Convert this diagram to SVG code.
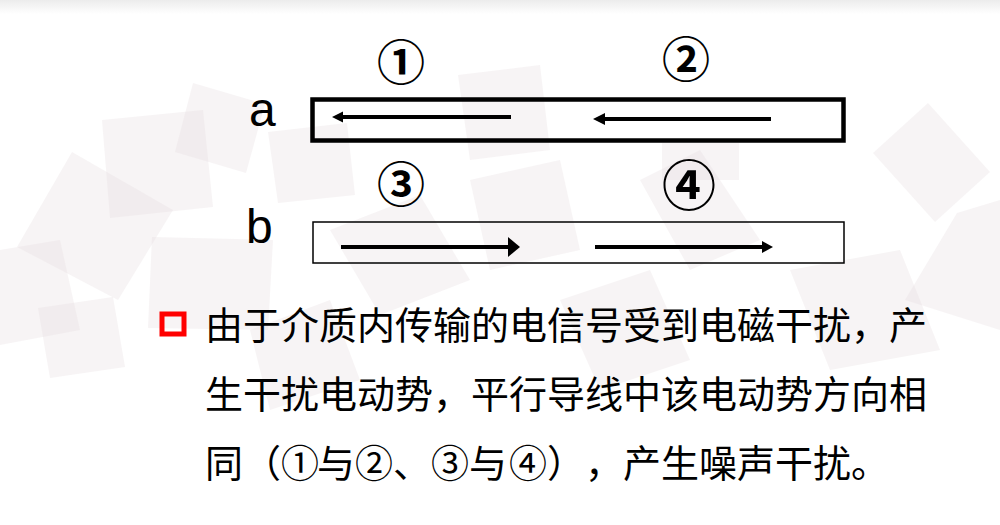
<svg xmlns="http://www.w3.org/2000/svg" width="1000" height="525" viewBox="0 0 1000 525">
<style>
.bg{fill:#e6dcdd;fill-opacity:0.3}
.lbl{font-family:"Liberation Sans",Arial,sans-serif;font-size:48px;fill:#000}
.num{font-family:"Noto Sans CJK SC",sans-serif;font-weight:bold;fill:#000;text-anchor:middle}
.txt{font-family:"Noto Sans CJK SC","Noto Sans CJK TC",sans-serif;font-size:38px;fill:#000}
.wire{stroke:#000;fill:none}
.shaft{stroke:#000;stroke-width:3.8;fill:none}
</style>
<defs>
<linearGradient id="topg" x1="0" y1="0" x2="0" y2="1">
<stop offset="0" stop-color="#ececec"/>
<stop offset="1" stop-color="#ffffff"/>
</linearGradient>
</defs>
<rect width="1000" height="525" fill="#ffffff"/>
<rect width="1000" height="14" fill="url(#topg)"/>
<g id="background">
<polygon class="bg" points="102,120 203,110 213,207 110,218"/>
<polygon class="bg" points="193,83 265,104 246,173 175,152"/>
<polygon class="bg" points="72,152 173,210 118,300 17,247"/>
<polygon class="bg" points="268,132 347,123 355,195 278,203"/>
<polygon class="bg" points="38,308 113,297 125,367 50,378"/>
<polygon class="bg" points="152,237 273,240 268,330 148,328"/>
<polygon class="bg" points="458,75 540,65 550,150 470,160"/>
<polygon class="bg" points="662,143 739,143 739,180 662,180"/>
<polygon class="bg" points="928,103 990,172 935,222 873,153"/>
<polygon class="bg" points="957,213 1000,200 1000,330 905,300"/>
<polygon class="bg" points="790,270 900,250 940,350 830,370"/>
<polygon class="bg" points="330,230 420,195 470,280 380,315"/>
<polygon class="bg" points="560,300 650,270 690,360 600,390"/>
<polygon class="bg" points="470,180 560,160 580,250 490,270"/>
<polygon class="bg" points="0,250 60,240 80,330 0,345"/>
<polygon class="bg" points="250,330 330,300 360,380 270,410"/>
<polygon class="bg" points="640,180 700,150 760,240 690,270"/>
</g>
<g id="label-a"><text class="lbl" x="249" y="126">a</text></g>
<g id="label-b"><text class="lbl" x="246" y="243">b</text></g>
<g id="wire-a"><rect class="wire" x="312.5" y="99.5" width="531" height="41" stroke-width="4.5"/></g>
<g id="wire-b"><rect class="wire" x="313" y="222" width="531" height="41" stroke-width="1.5"/></g>
<g id="n1"><text class="num" x="401" y="80" font-size="48">①</text></g>
<g id="n2"><text class="num" x="686" y="77" font-size="48">②</text></g>
<g id="n3"><text class="num" x="401" y="202" font-size="48">③</text></g>
<g id="n4"><text class="num" x="689" y="206" font-size="54">④</text></g>
<g id="connectors">
<line class="shaft" x1="511" y1="117" x2="340" y2="117"/>
<polygon points="332,117 343,111.5 343,122.5" fill="#000"/>
<line class="shaft" x1="771" y1="119" x2="600" y2="119"/>
<polygon points="593,119 605,113 605,125" fill="#000"/>
<line class="shaft" x1="341" y1="247" x2="512" y2="247"/>
<polygon points="520,247 508,237 508,257" fill="#000"/>
<line class="shaft" x1="595" y1="247" x2="766" y2="247"/>
<polygon points="773,247 762,241 762,253" fill="#000"/>
</g>
<g id="bullet"><rect x="162" y="314" width="22" height="20" fill="none" stroke="#ff0000" stroke-width="5"/></g>
<g id="body">
<text class="txt" x="205" y="339">由于介质内传输的电信号受到电磁干扰，产</text>
<text class="txt" x="205" y="408">生干扰电动势，平行导线中该电动势方向相</text>
<text class="txt" x="205 243 281 317 355 393 431 469 509 547 585 623 661 699 737 775 813 851" y="477">同（①与②、③与④），产生噪声干扰。</text>
</g>
</svg>
